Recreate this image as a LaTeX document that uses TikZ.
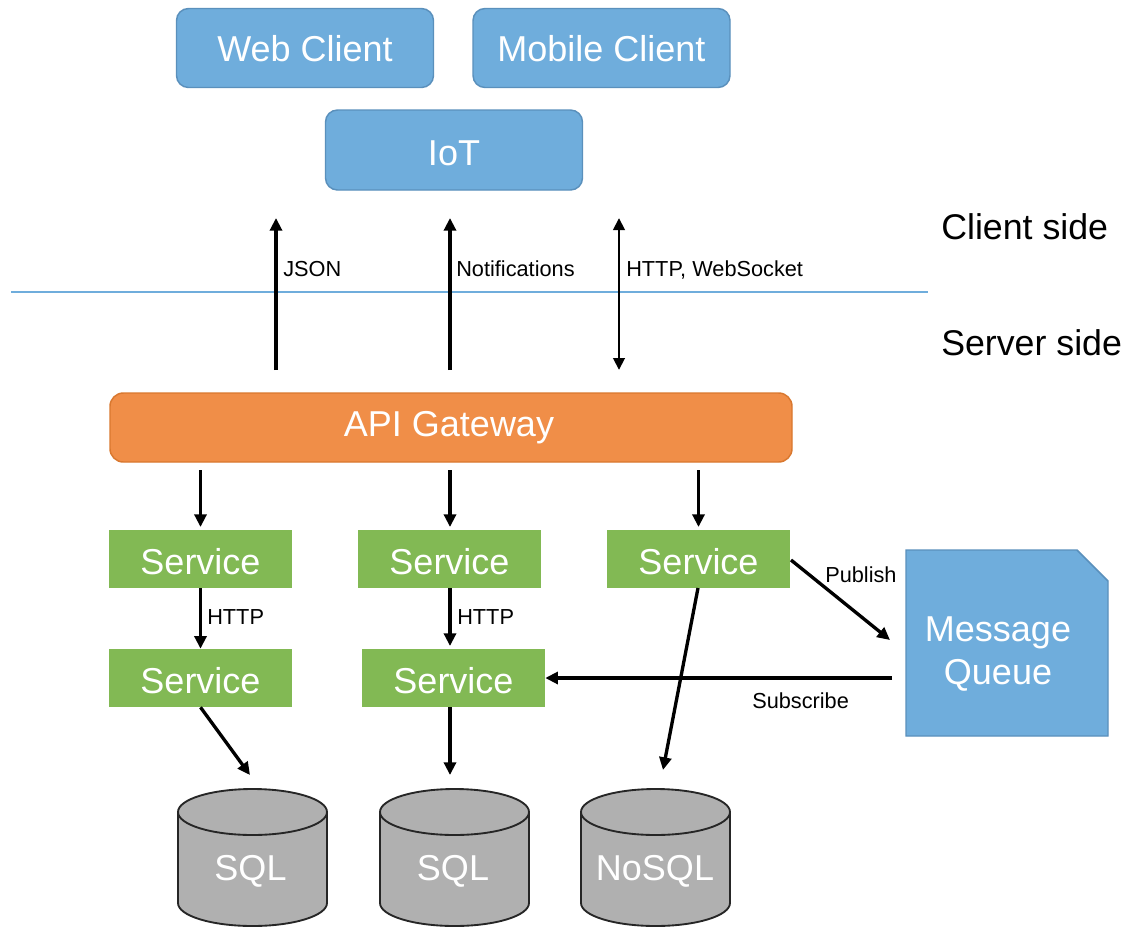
\documentclass[tikz,border=0pt]{standalone}
\usepackage{fontspec}
\setmainfont{Liberation Sans}
\usetikzlibrary{arrows.meta}
\definecolor{cblue}{HTML}{6FADDC}
\definecolor{cblueb}{HTML}{5A90BC}
\definecolor{corange}{HTML}{F08E48}
\definecolor{coranb}{HTML}{D9782F}
\definecolor{cgreen}{HTML}{82B954}
\definecolor{cgray}{HTML}{B0B0B0}
\newlength{\pxu}\setlength{\pxu}{0.75pt}
\tikzset{
  x=\pxu, y=-\pxu,
  bigtext/.style={font=\fontsize{27}{32}\selectfont, text=white, align=center},
  lab/.style={font=\fontsize{16.3}{19}\selectfont, text=black, anchor=west, inner sep=0pt},
  side/.style={font=\fontsize{26.8}{32}\selectfont, text=black, anchor=west, inner sep=0pt},
  blueround/.style={bigtext, draw=cblueb, line width=1.1pt, fill=cblue, rounded corners=9pt, minimum width=257*\pxu, minimum height=79*\pxu, inner sep=0pt},
  gateway/.style={bigtext, draw=coranb, line width=1.1pt, fill=corange, rounded corners=10pt, minimum width=682*\pxu, minimum height=69*\pxu, inner sep=0pt},
  svc/.style={bigtext, fill=cgreen, minimum width=183*\pxu, minimum height=58*\pxu, inner sep=0pt, text height=23pt},
  queue/.style={draw=cblueb, line width=1.1pt, fill=cblue},
  dbbody/.style={draw=black!85, line width=1.4pt, fill=cgray},
  arr/.style={draw=black, line width=2.5pt, -{Triangle[length=9.5pt,width=9pt]}},
  darr/.style={draw=black, line width=2.2pt, {Triangle[length=9pt,width=8.5pt]}-{Triangle[length=9pt,width=8.5pt]}},
  divider/.style={draw=cblue, line width=1pt},
}
\newcommand{\dbdraw}[1]{%
  \draw[dbbody] (#1-74.5,812) -- (#1-74.5,903) arc[start angle=180,end angle=360,x radius=74.5,y radius=-23] -- (#1+74.5,812);
  \draw[dbbody] (#1,812) ellipse[x radius=74.5,y radius=23];
}
\begin{document}
\begin{tikzpicture}
\useasboundingbox (0,0) rectangle (1129,929);
\fill[white] (0,0) rectangle (1129,929);

\coordinate (divl) at (11,292);
\coordinate (divr) at (928,292);
\draw[divider] (divl) -- (divr);

\node[blueround, text height=21pt] (web) at (305,48) {Web Client};
\node[blueround, text height=21pt] (mobile) at (601.5,48) {Mobile Client};
\node[blueround, minimum height=80*\pxu, text height=23pt] (iot) at (454,150) {IoT};
\node[gateway] (gw) at (451,427.5) {API Gateway\kern 3pt};

\node[svc] (s1) at (200.5,559) {Service};
\node[svc] (s2) at (449.5,559) {Service};
\node[svc] (s3) at (698.5,559) {Service};
\node[svc] (s4) at (200.5,678) {Service};
\node[svc] (s5) at (453.5,678) {Service};

\draw[queue] (906,550) -- (1077,550) -- (1108,581) -- (1108,736) -- (906,736) -- cycle;
\node[bigtext] (mq) at (998,654) {Message\\Queue};

\dbdraw{252.5}
\dbdraw{454.5}
\dbdraw{655.5}
\node[bigtext] (db1) at (250.5,871) {SQL};
\node[bigtext] (db2) at (453,871) {SQL};
\node[bigtext] (db3) at (655,871) {NoSQL};

\node[side] (cside) at (941,227) {Client side};
\node[side] (sside) at (941,343) {Server side};

\coordinate (a1t) at (276,218);
\coordinate (a1b) at (276,370);
\coordinate (a2t) at (450,218);
\coordinate (a2b) at (450,370);
\coordinate (a3t) at (619,218);
\coordinate (a3b) at (619,370);
\draw[arr] (a1b) -- (a1t);
\draw[arr] (a2b) -- (a2t);
\draw[darr] (a3b) -- (a3t);

\node[lab] (ljson) at (283,269) {JSON};
\node[lab] (lnot) at (456,269) {Notifications};
\node[lab] (lhttp) at (626,270) {HTTP, WebSocket};

\coordinate (g1) at (200.5,470);
\coordinate (g2) at (450,470);
\coordinate (g3) at (698.5,470);
\coordinate (e1) at (200.5,527);
\coordinate (e2) at (450,527);
\coordinate (e3) at (698.5,527);
\draw[arr] (g1) -- (e1);
\draw[arr] (g2) -- (e2);
\draw[arr] (g3) -- (e3);

\draw[arr] (s1.south) -- (s4.north);
\coordinate (h2a) at (450,588);
\coordinate (h2b) at (450,646);
\draw[arr] (h2a) -- (h2b);
\node[lab] (lh1) at (207,617) {HTTP};
\node[lab] (lh2) at (457,617) {HTTP};

\coordinate (d1) at (250,775);
\coordinate (d2) at (450,775);
\coordinate (d3) at (663,770);
\coordinate (s5b) at (450,707);
\coordinate (s3b) at (698,588);
\coordinate (s3r) at (791,560);
\coordinate (mqin) at (890,640);
\coordinate (mqout) at (892,678);
\draw[arr] (s4.south) -- (d1);
\draw[arr] (s5b) -- (d2);
\draw[arr] (s3b) -- (d3);
\draw[arr] (s3r) -- (mqin);
\draw[arr] (mqout) -- (s5.east);
\node[lab] (lpub) at (825,575) {Publish};
\node[lab] (lsub) at (752,701) {Subscribe};
\end{tikzpicture}
\end{document}
